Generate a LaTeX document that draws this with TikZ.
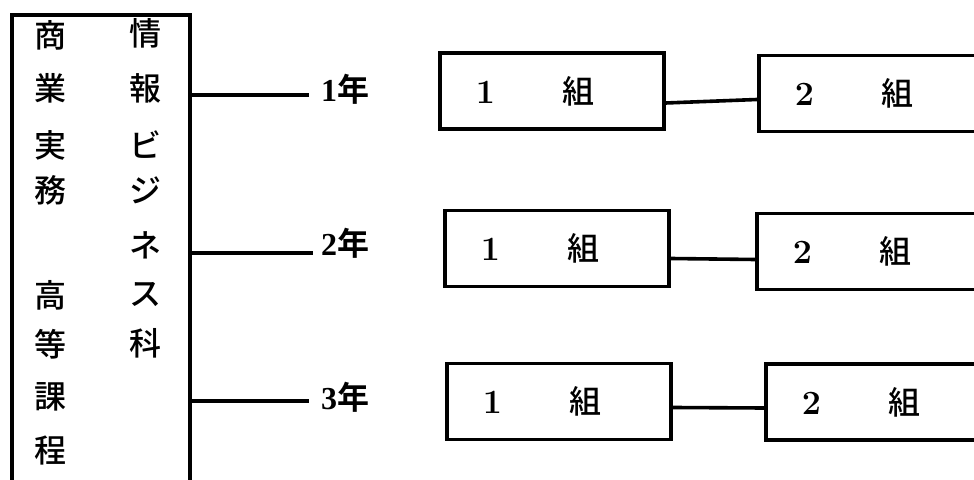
\documentclass[tikz,border=0pt]{standalone}
\usepackage{fontspec}
\newfontfamily\jp{Noto Sans CJK JP}[UprightFont = * Medium, BoldFont = * Bold]
\newfontfamily\yr{Liberation Serif}

\begin{document}
\begin{tikzpicture}[x = .5pt, y = -.5pt, line width = 1.8pt,
	col/.style = {font = \jp\fontsize{16}{16}\selectfont, inner sep = 0pt},
	year/.style = {font = \fontsize{16}{16}\selectfont\bfseries, inner sep = 0pt},
	klass/.style = {draw, anchor = west, minimum height = 38pt, text width = 76pt,
		align = left, inner xsep = 18pt, inner ysep = 0pt, font = \fontsize{17}{17}\selectfont}]

	\path[use as bounding box, clip] (0,0) rectangle (974,480);

	\node[draw, anchor = north west, minimum width = 89pt, minimum height = 245pt, inner sep = 0pt] (dept) at (10,13) {};

	\foreach \c/\y [count = \i] in {商/35, 業/88, 実/145, 務/190, 高/295, 等/344, 課/397, 程/451}
		\node[col] (l\i) at (50,\y) {\c};
	\foreach \c/\y [count = \i] in {情/33, 報/88, ビ/145, ジ/190, ネ/245, ス/295, 科/343}
		\node[col] (r\i) at (145,\y) {\c};

	\node[year] (y1) at (345,89) {{\yr 1}{\jp 年}};
	\node[year] (y2) at (345,243) {{\yr 2}{\jp 年}};
	\node[year] (y3) at (345,397) {{\yr 3}{\jp 年}};

	\coordinate (t1) at (309,95);
	\coordinate (t2) at (313,253);
	\coordinate (t3) at (309,401);
	\draw (dept.east |- t1) -- (t1);
	\draw (dept.east |- t2) -- (t2);
	\draw (dept.east |- t3) -- (t3);

	\node[klass] (a1) at (438,91) {\textbf{1}\hspace{34pt}{\jp\fontsize{16}{16}\selectfont 組}};
	\node[klass, text width = 150pt] (b1) at (757,93.5) {\textbf{2}\hspace{34pt}{\jp\fontsize{16}{16}\selectfont 組}};
	\node[klass] (a2) at (443,248.5) {\textbf{1}\hspace{34pt}{\jp\fontsize{16}{16}\selectfont 組}};
	\node[klass, text width = 150pt] (b2) at (755,251.5) {\textbf{2}\hspace{34pt}{\jp\fontsize{16}{16}\selectfont 組}};
	\node[klass] (a3) at (445,401.5) {\textbf{1}\hspace{34pt}{\jp\fontsize{16}{16}\selectfont 組}};
	\node[klass, text width = 150pt] (b3) at (764,402) {\textbf{2}\hspace{34pt}{\jp\fontsize{16}{16}\selectfont 組}};

	\draw ([yshift = -6pt]a1.east) -- ([yshift = -3pt]b1.west);
	\draw ([yshift = -5pt]a2.east) -- ([yshift = -4pt]b2.west);
	\draw ([yshift = -3pt]a3.east) -- ([yshift = -3pt]b3.west);

\end{tikzpicture}
\end{document}
